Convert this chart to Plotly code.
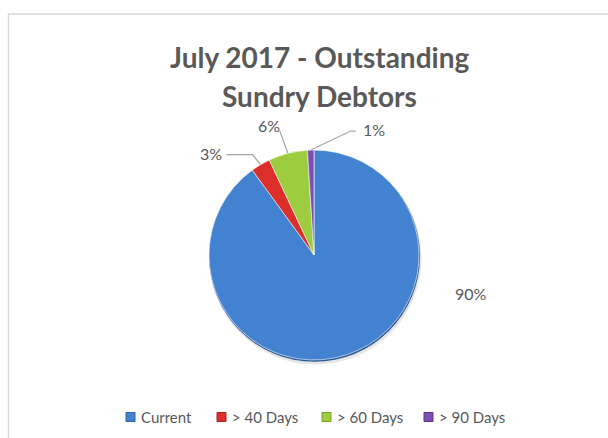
import numpy as np
import plotly.graph_objects as go

# chart data
categories = ["Current", "> 40 Days", "> 60 Days", "> 90 Days"]
shares = [90, 3, 6, 1]
colors = ["#4282d0", "#dc2f2b", "#9dcd3f", "#7d4fb3"]
edge_colors = ["#2c62a8", "#a82320", "#74a02a", "#5a3688"]
title_lines = ["July 2017 - Outstanding", "Sundry Debtors"]

# canvas and pie geometry (pixels)
W, H = 608, 438
CX, CY, R = 314, 255, 105
TEXT = "#595959"
LEADER = "#a6a6a6"

# label layout per slice: leader bend (dx, dy from edge point), text offset, anchor
label_layout = [
    dict(leader=None, text=(157, 38), xanchor="center"),
    dict(leader=[(-8, -10), (-34, -10)], text=(-3, -1), xanchor="right"),
    dict(leader=[(-8, -22)], text=(2, -6), xanchor="right"),
    dict(leader=[(40, -19), (45, -19)], text=(5, -2), xanchor="left"),
]

# legend / title placement (pixels)
legend_x = [130.5, 221.5, 326.5, 428.5]
legend_y = 417
title_y = [57, 96]

total = sum(shares)
cum = np.cumsum([0] + shares[:-1])
mid = 2 * np.pi * (cum + np.array(shares) / 2) / total
edge_x = CX + R * np.sin(mid)
edge_y = CY - R * np.cos(mid)


def pie_domain(cx, cy, r):
    return dict(x=[(cx - r) / W, (cx + r) / W], y=[(H - cy - r) / H, (H - cy + r) / H])


fig = go.Figure()

annotations = []
for i, lay in enumerate(label_layout):
    pct = f"{round(100 * shares[i] / total)}%"
    if lay["leader"] is None:
        tx, ty = CX + lay["text"][0], CY + lay["text"][1]
    else:
        xs = [edge_x[i]] + [edge_x[i] + dx for dx, dy in lay["leader"]]
        ys = [edge_y[i]] + [edge_y[i] + dy for dx, dy in lay["leader"]]
        fig.add_trace(
            go.Scatter(
                x=xs, y=ys, mode="lines",
                line=dict(color=LEADER, width=1.2),
                hoverinfo="skip", showlegend=False,
            )
        )
        tx, ty = xs[-1] + lay["text"][0], ys[-1] + lay["text"][1]
    annotations.append(
        dict(
            x=tx, y=ty, xref="x", yref="y", text=pct, showarrow=False,
            xanchor=lay["xanchor"], yanchor="middle",
            font=dict(family="Lato", size=16, color=TEXT),
        )
    )

# title, two lines
for line, ty in zip(title_lines, title_y):
    annotations.append(
        dict(
            x=CX + 5, y=ty, xref="x", yref="y", text=line, showarrow=False,
            xanchor="center", yanchor="middle",
            font=dict(family="Lato", size=28, color=TEXT, weight="bold"),
        )
    )

# legend built from squares + labels
fig.add_trace(
    go.Scatter(
        x=legend_x, y=[legend_y] * len(categories), mode="markers",
        marker=dict(symbol="square", size=9, color=colors,
                    line=dict(color=edge_colors, width=1)),
        hoverinfo="skip", showlegend=False,
    )
)
for lx, name in zip(legend_x, categories):
    annotations.append(
        dict(
            x=lx + 8, y=legend_y, xref="x", yref="y", text=name, showarrow=False,
            xanchor="left", yanchor="middle",
            font=dict(family="Lato", size=15, color=TEXT),
        )
    )

# soft shadow and dark rim behind the pie (Excel bevel look)
fig.add_trace(
    go.Pie(
        values=[1], labels=["shadow"], textinfo="none", hoverinfo="skip",
        showlegend=False, sort=False,
        marker=dict(colors=["rgba(0,0,0,0.10)"], line=dict(width=0)),
        domain=pie_domain(CX + 1.5, CY + 3.5, R + 1),
    )
)
fig.add_trace(
    go.Pie(
        values=[1], labels=["rim"], textinfo="none", hoverinfo="skip",
        showlegend=False, sort=False,
        marker=dict(colors=["#2b5a98"], line=dict(width=0)),
        domain=pie_domain(CX + 0.5, CY + 1.2, R + 0.5),
    )
)

# pie placed so its centre/radius land on CX, CY, R
fig.add_trace(
    go.Pie(
        labels=categories,
        values=shares,
        sort=False,
        direction="clockwise",
        rotation=0,
        textinfo="none",
        hoverinfo="label+percent",
        showlegend=False,
        marker=dict(colors=colors, line=dict(color="rgba(255,255,255,0.6)", width=1)),
        domain=pie_domain(CX, CY, R),
    )
)

# chart border (left and top edges visible)
fig.add_shape(
    type="path", path=f"M 8.5 {H} L 8.5 14 L {W} 14",
    xref="x", yref="y", line=dict(color="#d9d9d9", width=1.5),
)

fig.update_xaxes(range=[0, W], visible=False, fixedrange=True)
fig.update_yaxes(range=[H, 0], visible=False, fixedrange=True)

fig.update_layout(
    width=W,
    height=H,
    autosize=False,
    margin=dict(l=0, r=0, t=0, b=0),
    plot_bgcolor="#FFFFFF",
    paper_bgcolor="#FFFFFF",
    annotations=annotations,
    showlegend=False,
)

fig.write_html(
    "out.html",
    config=dict(displayModeBar=False),
    post_script="document.body.style.margin='0';document.body.style.overflow='hidden';",
)
